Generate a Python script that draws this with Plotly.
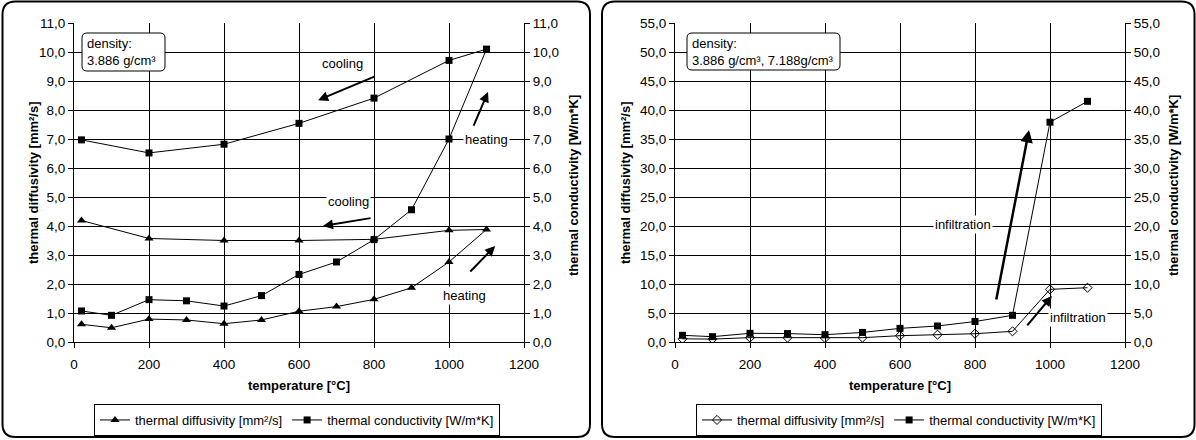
import plotly.graph_objects as go

# ---------------- data ----------------
left_T = [20, 100, 200, 300, 400, 500, 600, 700, 800, 900, 1000, 1100, 1000, 800, 600, 400, 200, 20]
left_diff = [0.61, 0.49, 0.79, 0.76, 0.63, 0.76, 1.06, 1.22, 1.47, 1.87, 2.76, 3.88, 3.85, 3.54, 3.50, 3.50, 3.57, 4.19]
left_cond = [1.07, 0.92, 1.46, 1.42, 1.24, 1.60, 2.33, 2.76, 3.53, 4.56, 7.00, 10.10, 9.71, 8.41, 7.54, 6.82, 6.52, 6.97]

right_T = [20, 100, 200, 300, 400, 500, 600, 700, 800, 900, 1000, 1100]
right_diff = [0.55, 0.50, 0.75, 0.75, 0.68, 0.75, 1.09, 1.26, 1.43, 1.84, 9.08, 9.36]
right_cond = [1.15, 0.92, 1.50, 1.45, 1.26, 1.65, 2.35, 2.76, 3.53, 4.60, 37.9, 41.5]

diff_name = "thermal diffusivity [mm²/s]"
cond_name = "thermal conductivity [W/m*K]"
x_title = "temperature [°C]"

W, H = 1196, 440
FONT = "Liberation Sans, Arial, sans-serif"


def px(x):
    return x / W


def py(y):
    return 1 - y / H


def rrect(x0, y0, x1, y1, r):
    rx, ry = r / W, r / H
    X0, X1 = px(x0), px(x1)
    Y0, Y1 = py(y0), py(y1)  # Y0 top, Y1 bottom
    return (f"M {X0+rx},{Y0} L {X1-rx},{Y0} Q {X1},{Y0} {X1},{Y0-ry} "
            f"L {X1},{Y1+ry} Q {X1},{Y1} {X1-rx},{Y1} L {X0+rx},{Y1} "
            f"Q {X0},{Y1} {X0},{Y1+ry} L {X0},{Y0-ry} Q {X0},{Y0} {X0+rx},{Y0} Z")


fig = go.Figure()

line = dict(color="black", width=1)
fig.add_trace(go.Scatter(x=left_T, y=left_diff, name=diff_name, mode="lines+markers",
                         line=line, marker=dict(symbol="triangle-up", size=8, color="black"),
                         xaxis="x", yaxis="y", legend="legend"))
fig.add_trace(go.Scatter(x=left_T, y=left_cond, name=cond_name, mode="lines+markers",
                         line=line, marker=dict(symbol="square", size=7, color="black"),
                         xaxis="x", yaxis="y2", legend="legend"))
fig.add_trace(go.Scatter(x=right_T, y=right_diff, name=diff_name, mode="lines+markers",
                         line=line, marker=dict(symbol="diamond-open", size=7, color="black",
                                                line=dict(width=1, color="black")),
                         xaxis="x2", yaxis="y3", legend="legend2"))
fig.add_trace(go.Scatter(x=right_T, y=right_cond, name=cond_name, mode="lines+markers",
                         line=line, marker=dict(symbol="square", size=7, color="black"),
                         xaxis="x2", yaxis="y4", legend="legend2"))

ydom = [py(342), py(23)]
tickfont = dict(family=FONT, size=13.5, color="black")
titlefont = dict(family=FONT, size=13, color="black", weight="bold")

xcommon = dict(range=[0, 1200], dtick=200, tickformat="d", showgrid=True, gridcolor="black",
               gridwidth=1, showline=True, linecolor="black", linewidth=1, ticks="outside",
               ticklen=5, tickcolor="black", zeroline=False, tickfont=tickfont,
               ticklabelstandoff=5, automargin=False)
ycommon = dict(tickformat=".1f", showline=True, linecolor="black", linewidth=1,
               ticks="outside", ticklen=5, tickcolor="black", zeroline=False, tickfont=tickfont,
               automargin=False)

fig.update_layout(
    xaxis=dict(domain=[px(74), px(524)], anchor="y", **xcommon),
    xaxis2=dict(domain=[px(675), px(1125)], anchor="y3", **xcommon),
    yaxis=dict(domain=ydom, anchor="x", range=[0, 11], dtick=1, showgrid=True, gridcolor="black",
               gridwidth=1, **ycommon),
    yaxis2=dict(domain=ydom, anchor="x", overlaying="y", side="right", range=[0, 11], dtick=1,
                showgrid=False, **ycommon),
    yaxis3=dict(domain=ydom, anchor="x2", range=[0, 55], dtick=5, showgrid=True, gridcolor="black",
                gridwidth=1, **ycommon),
    yaxis4=dict(domain=ydom, anchor="x2", overlaying="y3", side="right", range=[0, 55], dtick=5,
                showgrid=False, **ycommon),
)

legcommon = dict(orientation="h", xanchor="center", yanchor="bottom", y=py(436),
                 bordercolor="black", borderwidth=1, bgcolor="white", itemwidth=30,
                 font=dict(family=FONT, size=13, color="black"))
fig.update_layout(legend=dict(x=px(297), **legcommon), legend2=dict(x=px(899), **legcommon))

# frames and density boxes
shapes = [
    dict(type="path", path=rrect(2.5, 1.5, 590, 437, 13), xref="paper", yref="paper",
         line=dict(color="black", width=2), layer="above"),
    dict(type="path", path=rrect(602, 1.5, 1194.5, 437, 13), xref="paper", yref="paper",
         line=dict(color="black", width=2), layer="above"),
    dict(type="path", path=rrect(82, 33, 165, 71, 5), xref="paper", yref="paper",
         line=dict(color="black", width=1), fillcolor="white", layer="above"),
    dict(type="path", path=rrect(687, 33, 840, 70, 5), xref="paper", yref="paper",
         line=dict(color="black", width=1), fillcolor="white", layer="above"),
]
fig.update_layout(shapes=shapes)

afont = dict(family=FONT, size=13, color="black")


def title(text, x, y, angle=0):
    return dict(text=text, x=px(x), y=py(y), xref="paper", yref="paper", xanchor="center",
                yanchor="middle", textangle=angle, showarrow=False, font=titlefont)


ann = [
    dict(text="density:<br>3.886 g/cm³", x=px(85), y=py(52), xref="paper", yref="paper",
         xanchor="left", yanchor="middle", align="left", showarrow=False, font=afont),
    dict(text="density:<br>3.886 g/cm³, 7.188g/cm³", x=px(690), y=py(51.5), xref="paper", yref="paper",
         xanchor="left", yanchor="middle", align="left", showarrow=False, font=afont),
    title(x_title, 299, 385),
    title(x_title, 900, 385),
    title(diff_name, 33, 183, -90),
    title(cond_name, 573, 186, -90),
    title(diff_name, 625, 183, -90),
    title(cond_name, 1173, 186, -90),
]


def label(text, x, y, xr, yr):
    return dict(text=text, x=x, y=y, xref=xr, yref=yr, showarrow=False, font=afont,
                bgcolor="white", borderpad=1)


def arrow(x0, y0, x1, y1, xr, yr, w=2):
    return dict(text="", x=x1, y=y1, ax=x0, ay=y0, xref=xr, yref=yr, axref=xr, ayref=yr,
                showarrow=True, arrowhead=2, arrowsize=1, arrowwidth=w, arrowcolor="black",
                standoff=0, startstandoff=0)


ann += [
    label("cooling", 715, 9.62, "x", "y"),
    arrow(805, 9.17, 651, 8.34, "x", "y"),
    label("heating", 1100, 7.0, "x", "y"),
    arrow(1064, 7.41, 1104, 8.62, "x", "y"),
    label("cooling", 733, 4.83, "x", "y"),
    arrow(795, 4.28, 664, 4.0, "x", "y"),
    label("heating", 1040, 1.62, "x", "y"),
    arrow(1053, 2.38, 1123, 3.31, "x", "y"),
    label("infiltration", 768, 20.2, "x2", "y3"),
    arrow(856, 7.07, 944, 36.55, "x2", "y3", w=2.5),
    label("infiltration", 1075, 4.3, "x2", "y3"),
    arrow(936, 2.59, 1005, 7.93, "x2", "y3"),
]
fig.update_layout(annotations=ann)

fig.update_layout(width=W, height=H, autosize=False, margin=dict(l=0, r=0, t=0, b=0),
                  paper_bgcolor="white", plot_bgcolor="white", separators=",.",
                  font=dict(family=FONT, size=13, color="black"))

fig.write_html("out.html")
